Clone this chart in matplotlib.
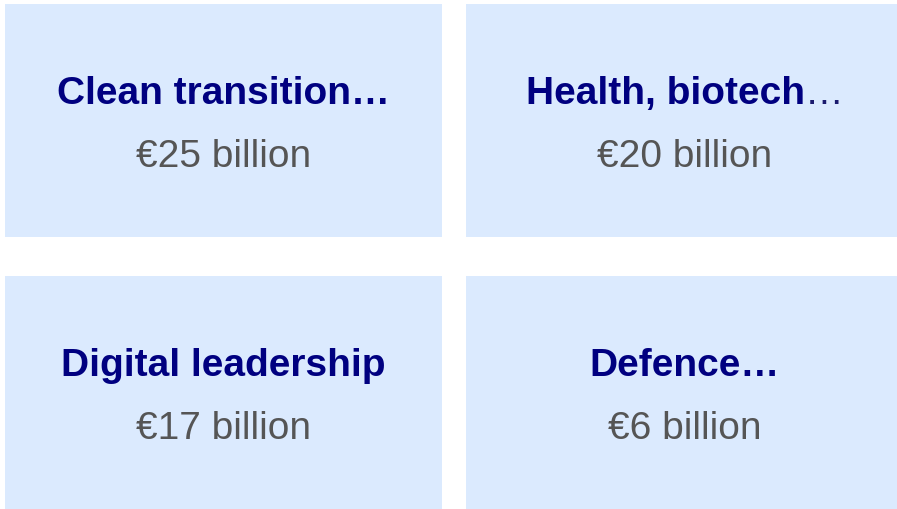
import matplotlib
matplotlib.use("Agg")
import matplotlib.pyplot as plt
from matplotlib.patches import Rectangle

# tile contents, in reading order
titles = ["Clean transition…", "Health, biotech", "Digital leadership", "Defence…"]
title_tails = ["", "…", "", ""]   # drawn in regular weight
amounts = [25, 20, 17, 6]
rows = [0, 0, 1, 1]
cols = [0, 1, 0, 1]

W, H = 897, 510
fig = plt.figure(figsize=(W / 100, H / 100), dpi=100)
ax = fig.add_axes([0, 0, 1, 1])
ax.set_xlim(0, W)
ax.set_ylim(H, 0)
ax.axis("off")
renderer = fig.canvas.get_renderer()

tile_w, tile_h = 437, 233
x0, y0 = 5, 5
gap_x, gap_y = 24, 39

for title, tail, amount, r, c in zip(titles, title_tails, amounts, rows, cols):
    x = x0 + c * (tile_w + gap_x)
    y = y0 + r * (tile_h + gap_y)
    ax.add_patch(Rectangle((x, y), tile_w, tile_h, facecolor="#dbeafe",
                           edgecolor="none"))
    cx = x + tile_w / 2
    head = ax.text(cx, y + 99.5, title, ha="left", va="baseline",
                   fontsize=28, fontweight="bold", color="#000080",
                   family="Liberation Sans")
    w_head = head.get_window_extent(renderer).width
    w_tail = 0
    if tail:
        t = ax.text(cx, y + 99.5, tail, ha="left", va="baseline",
                    fontsize=28, color="#1a1a6e", family="Liberation Sans")
        w_tail = t.get_window_extent(renderer).width
    left = cx - (w_head + w_tail) / 2
    head.set_x(left)
    if tail:
        t.set_x(left + w_head)
    ax.text(cx, y + 162.5, f"€{amount} billion", ha="center", va="baseline",
            fontsize=28, color="#555555", family="Liberation Sans")

fig.savefig("out.png", dpi=100)
plt.close(fig)
